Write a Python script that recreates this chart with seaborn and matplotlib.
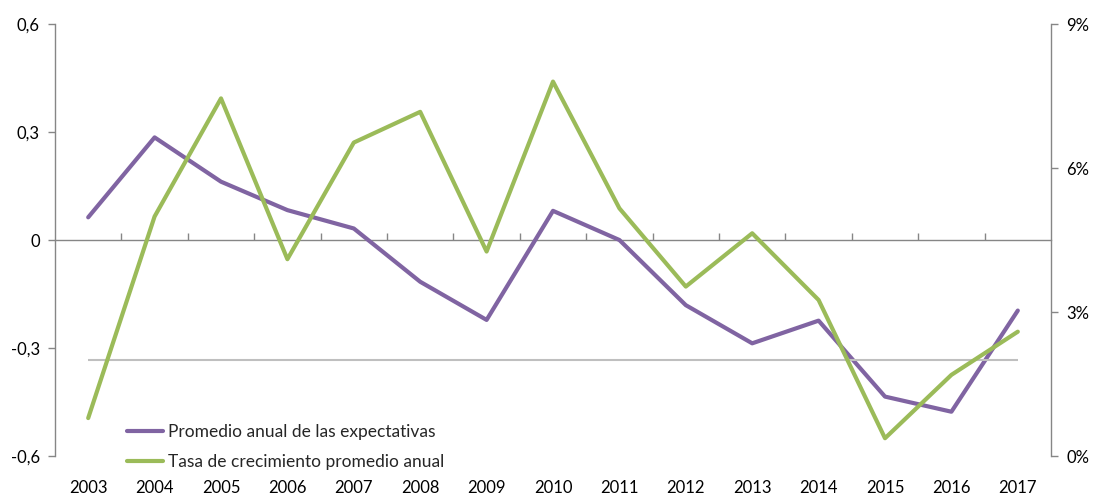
import matplotlib
matplotlib.use("Agg")
import matplotlib.pyplot as plt
import matplotlib.ticker as mticker
import seaborn as sns
import pandas as pd

# ---- data ----
years = ["2003", "2004", "2005", "2006", "2007", "2008", "2009", "2010",
         "2011", "2012", "2013", "2014", "2015", "2016", "2017"]
expectativas = [0.063, 0.285, 0.162, 0.083, 0.032, -0.116, -0.222, 0.081,
                0.000, -0.181, -0.287, -0.224, -0.435, -0.477, -0.196]
crecimiento = [0.79, 4.99, 7.45, 4.10, 6.53, 7.17, 4.26, 7.80,
               5.16, 3.53, 4.64, 3.25, 0.37, 1.69, 2.59]
referencia = 2.0  # % on right axis
left_ticks = [-0.6, -0.3, 0.0, 0.3, 0.6]
left_labels = ["-0,6", "-0,3", "0", "0,3", "0,6"]
right_ticks = [0, 3, 6, 9]
right_labels = ["0%", "3%", "6%", "9%"]
label_exp = "Promedio anual de las expectativas"
label_crec = "Tasa de crecimiento promedio anual"

sns.set_theme(style="white")
plt.rcParams['font.family'] = ['Lato', 'DejaVu Sans']

PURPLE = "#8064A2"
GREEN = "#9BBB59"
AXIS_GRAY = "#868686"
REF_GRAY = "#BFBFBF"
FS = 12

df = pd.DataFrame({"x": list(range(len(years))), "exp": expectativas, "crec": crecimiento})

fig = plt.figure(figsize=(10.94, 4.94), dpi=100)
ax = fig.add_axes([55 / 1094, 1 - 456 / 494, (1051 - 55) / 1094, (456 - 24) / 494])
ax2 = ax.twinx()

# reference line (right axis)
ax2.hlines(referencia, xmin=0, xmax=len(years) - 1, color=REF_GRAY, lw=1.5, zorder=1)

sns.lineplot(data=df, x="x", y="exp", ax=ax, color=PURPLE, lw=3.0, label=label_exp, legend=False)
sns.lineplot(data=df, x="x", y="crec", ax=ax2, color=GREEN, lw=3.0, label=label_crec, legend=False)

ax.set_xlim(-0.5, len(years) - 0.5)
ax.set_ylim(-0.6, 0.6)
ax2.set_ylim(0, 9)

ax.set_xlabel("")
ax.set_ylabel("")
ax2.set_ylabel("")

ax.set_yticks(left_ticks)
ax.set_yticklabels(left_labels, fontsize=FS, color="black")
ax2.set_yticks(right_ticks)
ax2.set_yticklabels(right_labels, fontsize=FS, color="black")

ax.set_xticks(range(len(years)))
ax.set_xticklabels(years, fontsize=FS, color="black")
ax.tick_params(axis="x", length=0, pad=17)
ax.tick_params(axis="y", length=5, width=1, color=AXIS_GRAY, direction="out", pad=6, left=True)
ax2.tick_params(axis="y", length=5, width=1, color=AXIS_GRAY, direction="out", pad=6, right=True)

for a in (ax, ax2):
    a.spines["top"].set_visible(False)
    a.spines["bottom"].set_visible(False)
    a.spines["left"].set_color(AXIS_GRAY)
    a.spines["right"].set_color(AXIS_GRAY)
    a.spines["left"].set_linewidth(1)
    a.spines["right"].set_linewidth(1)
    a.grid(False)
ax2.spines["left"].set_visible(False)
ax.spines["right"].set_visible(False)

# category axis crossing at zero with boundary tick marks
sec = ax.secondary_xaxis(0.5)
sec.set_xticks([i + 0.5 for i in range(len(years) - 1)])
sec.xaxis.set_major_formatter(mticker.NullFormatter())
sec.tick_params(axis="x", length=5, width=1, color=AXIS_GRAY, direction="out")
for sp in sec.spines.values():
    sp.set_color(AXIS_GRAY)
    sp.set_linewidth(1)

# legend
h1, l1 = ax.get_legend_handles_labels()
h2, l2 = ax2.get_legend_handles_labels()
ax2.legend(h1 + h2, l1 + l2, loc="upper left",
           bbox_to_anchor=(127 / 1094, 1 - 424 / 494), bbox_transform=fig.transFigure,
           frameon=False, fontsize=12.5, handlelength=2.1, handletextpad=0.25,
           labelspacing=0.8, borderpad=0, borderaxespad=0)

fig.savefig("out.png", dpi=100)
